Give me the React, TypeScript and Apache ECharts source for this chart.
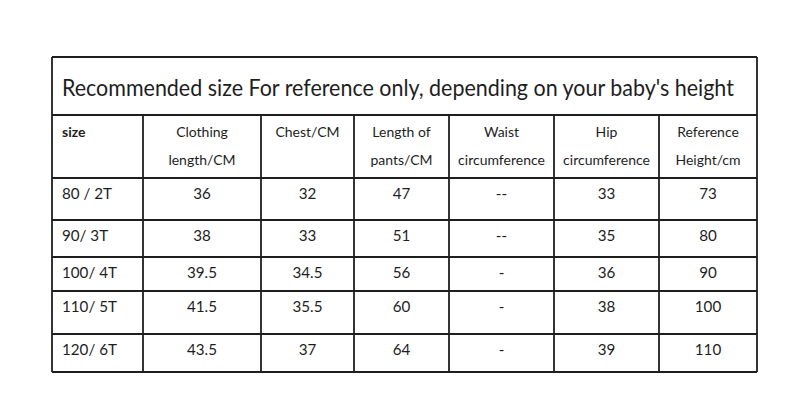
import React, { useEffect, useRef } from "react";
import * as echarts from "echarts";

const title = "Recommended size For reference only, depending on your baby's height";
const headers: string[][] = [
  ["size"],
  ["Clothing", "length/CM"],
  ["Chest/CM"],
  ["Length of", "pants/CM"],
  ["Waist", "circumference"],
  ["Hip", "circumference"],
  ["Reference", "Height/cm"],
];
const sizes = ["80 / 2T", "90/ 3T", "100/ 4T", "110/ 5T", "120/ 6T"];
const clothingLength = [36, 38, 39.5, 41.5, 43.5];
const chest = [32, 33, 34.5, 35.5, 37];
const pantsLength = [47, 51, 56, 60, 64];
const waist = ["--", "--", "-", "-", "-"];
const hip = [33, 35, 36, 38, 39];
const refHeight = [73, 80, 90, 100, 110];

// layout
const colX = [52, 143, 261, 354, 449, 554, 659, 757];
const rowY = [57, 115, 178, 220, 257, 291, 334, 372];
const FONT = "Lato, 'Open Sans', sans-serif";
const INK = "#1e1e1e";

export default function App() {
  const ref = useRef<HTMLDivElement>(null);
  useEffect(() => {
    if (!ref.current) return;
    const chart = echarts.init(ref.current, undefined, { renderer: "svg" });
    const els: any[] = [];
    els.push({
      type: "rect",
      shape: { x: 0, y: 0, width: 800, height: 420 },
      style: { fill: "#ffffff" },
      silent: true,
    });
    // title
    els.push({
      type: "text",
      x: 62,
      y: (rowY[0] + rowY[1]) / 2 + 1,
      scaleX: 0.933,
      style: {
        text: title,
        fill: INK,
        font: `23px ${FONT}`,
        textAlign: "left",
        textVerticalAlign: "middle",
      },
    });
    // headers
    headers.forEach((lines, c) => {
      lines.forEach((t, i) => {
        const left = c === 0;
        els.push({
          type: "text",
          x: left ? 62 : (colX[c] + colX[c + 1]) / 2,
          y: rowY[1] + 16 + i * 28,
          style: {
            text: t,
            fill: INK,
            font: `${left ? "bold " : ""}14px ${FONT}`,
            textAlign: left ? "left" : "center",
            textVerticalAlign: "middle",
          },
        });
      });
    });
    // body
    const cols: (string | number)[][] = [sizes, clothingLength, chest, pantsLength, waist, hip, refHeight];
    sizes.forEach((_, r) => {
      const top = rowY[r + 2];
      cols.forEach((col, c) => {
        const left = c === 0;
        els.push({
          type: "text",
          x: left ? 62 : (colX[c] + colX[c + 1]) / 2,
          y: top + 15,
          scaleX: 0.95,
          style: {
            text: String(col[r]),
            fill: INK,
            font: `16px ${FONT}`,
            textAlign: left ? "left" : "center",
            textVerticalAlign: "middle",
          },
        });
      });
    });
    // horizontal lines
    rowY.forEach((y) => {
      els.push({
        type: "line",
        shape: { x1: colX[0], y1: y, x2: colX[colX.length - 1], y2: y },
        style: { stroke: INK, lineWidth: 1.8 },
      });
    });
    // vertical lines
    colX.forEach((x, i) => {
      const inner = i !== 0 && i !== colX.length - 1;
      els.push({
        type: "line",
        shape: { x1: x, y1: inner ? rowY[1] : rowY[0], x2: x, y2: rowY[rowY.length - 1] },
        style: { stroke: INK, lineWidth: 1.8 },
      });
    });
    chart.setOption({ animation: false, graphic: { elements: els } });
    return () => chart.dispose();
  }, []);
  return (
    <div
      ref={ref}
      style={{ position: "fixed", left: 0, top: 0, width: 800, height: 420, background: "#fff" }}
    />
  );
}
